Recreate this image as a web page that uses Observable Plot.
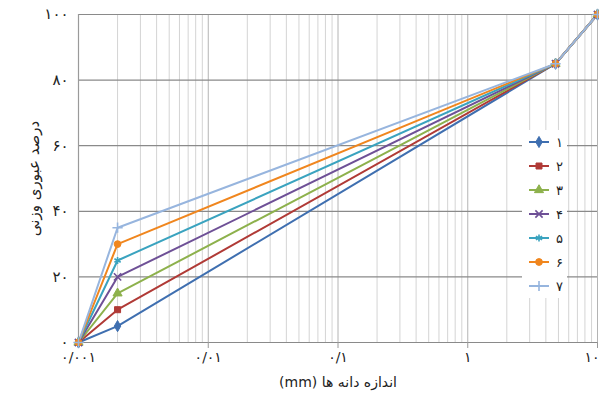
<!DOCTYPE html>
<html>
<head>
<meta charset="utf-8">
<script src="https://cdn.jsdelivr.net/npm/d3@7"></script>
<script src="https://cdn.jsdelivr.net/npm/@observablehq/plot@0.6"></script>
<style>
  html, body { margin: 0; padding: 0; background: #fff; }
  #wrap { position: relative; width: 599px; height: 401px; }
  #legend { position: absolute; left: 0; top: 0; }
</style>
</head>
<body>
<div id="wrap"></div>
<script>
// Data
const grainSizes = [0.001, 0.002, 4.75, 10];           // mm
const series1 = [0, 5, 85, 100];
const series2 = [0, 10, 85, 100];
const series3 = [0, 15, 85, 100];
const series4 = [0, 20, 85, 100];
const series5 = [0, 25, 85, 100];
const series6 = [0, 30, 85, 100];
const series7 = [0, 35, 85, 100];
const seriesNames = ["۱", "۲", "۳", "۴", "۵", "۶", "۷"];
const xTicks = [0.001, 0.01, 0.1, 1, 10];
const yTicks = [0, 20, 40, 60, 80, 100];
const xLabel = "اندازه دانه ها (mm)";
const yLabel = "درصد عبوری وزنی";

// Styles
const colors = ["#3f6fb0", "#b03a36", "#8db14c", "#6e5096", "#3aa3bf", "#f0861e", "#97b5de"];
const symbols = ["diamond", "square", "triangle", "times", "asterisk", "circle", "plus"];
const d3symbols = [d3.symbolDiamond, d3.symbolSquare, d3.symbolTriangle, d3.symbolTimes, d3.symbolAsterisk, d3.symbolCircle, d3.symbolPlus];

const allSeries = [series1, series2, series3, series4, series5, series6, series7];
const rows = [];
allSeries.forEach((vals, i) => vals.forEach((v, j) => rows.push({s: i, name: seriesNames[i], x: grainSizes[j], y: v})));

const fa = d => String(d).replace(/\d/g, c => "۰۱۲۳۴۵۶۷۸۹"[+c]).replace(".", "/");

// minor log gridlines
const minor = [];
for (const dec of [0.001, 0.01, 0.1, 1]) for (let k = 2; k <= 9; k++) minor.push(+(dec * k).toPrecision(3));

const marks = [
  Plot.ruleX(minor, {stroke: "#d4d4d4", strokeWidth: 1}),
  Plot.ruleX(xTicks, {stroke: "#b4b4b4", strokeWidth: 1}),
  Plot.ruleY(yTicks, {stroke: "#8a8a8a", strokeWidth: 1.2}),
  Plot.ruleX([xTicks[0]], {stroke: "#9a9a9a", strokeWidth: 1.2}),
  Plot.axisX({ticks: xTicks, tickFormat: fa, tickSize: 6, tickPadding: 4, stroke: "#9a9a9a",
    label: xLabel, labelAnchor: "center", labelArrow: "none", labelOffset: 44, fontSize: 14}),
  Plot.axisY({ticks: yTicks, tickFormat: fa, tickSize: 0, tickPadding: 10,
    label: yLabel, labelAnchor: "center", labelArrow: "none", labelOffset: 50, fontSize: 15})
];
allSeries.forEach((vals, i) => {
  const data = rows.filter(r => r.s === i);
  marks.push(Plot.line(data, {x: "x", y: "y", stroke: colors[i], strokeWidth: 2}));
});
allSeries.forEach((vals, i) => {
  const data = rows.filter(r => r.s === i);
  const strokeSym = ["times", "asterisk", "plus"].includes(symbols[i]);
  marks.push(Plot.dot(data, {x: "x", y: "y", symbol: () => symbols[i], r: 3.4,
    fill: strokeSym ? "none" : colors[i], stroke: colors[i], strokeWidth: strokeSym ? 1.6 : 1}));
});

const chart = Plot.plot({
  width: 599, height: 401,
  marginLeft: 78, marginRight: 2, marginTop: 14, marginBottom: 59,
  x: {type: "log", domain: [0.001, 10]},
  y: {domain: [0, 100]},
  style: {fontFamily: "'DejaVu Sans', sans-serif", fontSize: "12px", color: "#222", background: "#fff"},
  marks
});
document.getElementById("wrap").appendChild(chart);
const root = d3.select(chart);
root.selectAll("[aria-label='x-axis label'] text").attr("direction", "rtl");
// keep the last x tick label inside the picture
const xt = root.selectAll("[aria-label='x-axis tick label'] text").nodes();
if (xt.length) d3.select(xt[xt.length - 1]).attr("text-anchor", "end").attr("dx", 2);

// Legend
const leg = d3.select("#wrap").append("svg").attr("id", "legend").attr("width", 599).attr("height", 401);
leg.append("rect").attr("x", 522).attr("y", 130).attr("width", 45).attr("height", 168).attr("fill", "#fff");
seriesNames.forEach((name, i) => {
  const y = 142 + i * 24;
  const g = leg.append("g");
  g.append("line").attr("x1", 529).attr("x2", 549).attr("y1", y).attr("y2", y).attr("stroke", colors[i]).attr("stroke-width", 2);
  const strokeSym = ["times", "asterisk", "plus"].includes(symbols[i]);
  g.append("path").attr("d", d3.symbol(d3symbols[i], 36)()).attr("transform", `translate(539,${y})`)
    .attr("fill", strokeSym ? "none" : colors[i]).attr("stroke", colors[i]).attr("stroke-width", strokeSym ? 1.6 : 1);
  g.append("text").attr("x", 556).attr("y", y).attr("dy", "0.35em").attr("font-family", "'DejaVu Sans', sans-serif")
    .attr("font-size", 13).attr("fill", "#222").text(name);
});
</script>
</body>
</html>
